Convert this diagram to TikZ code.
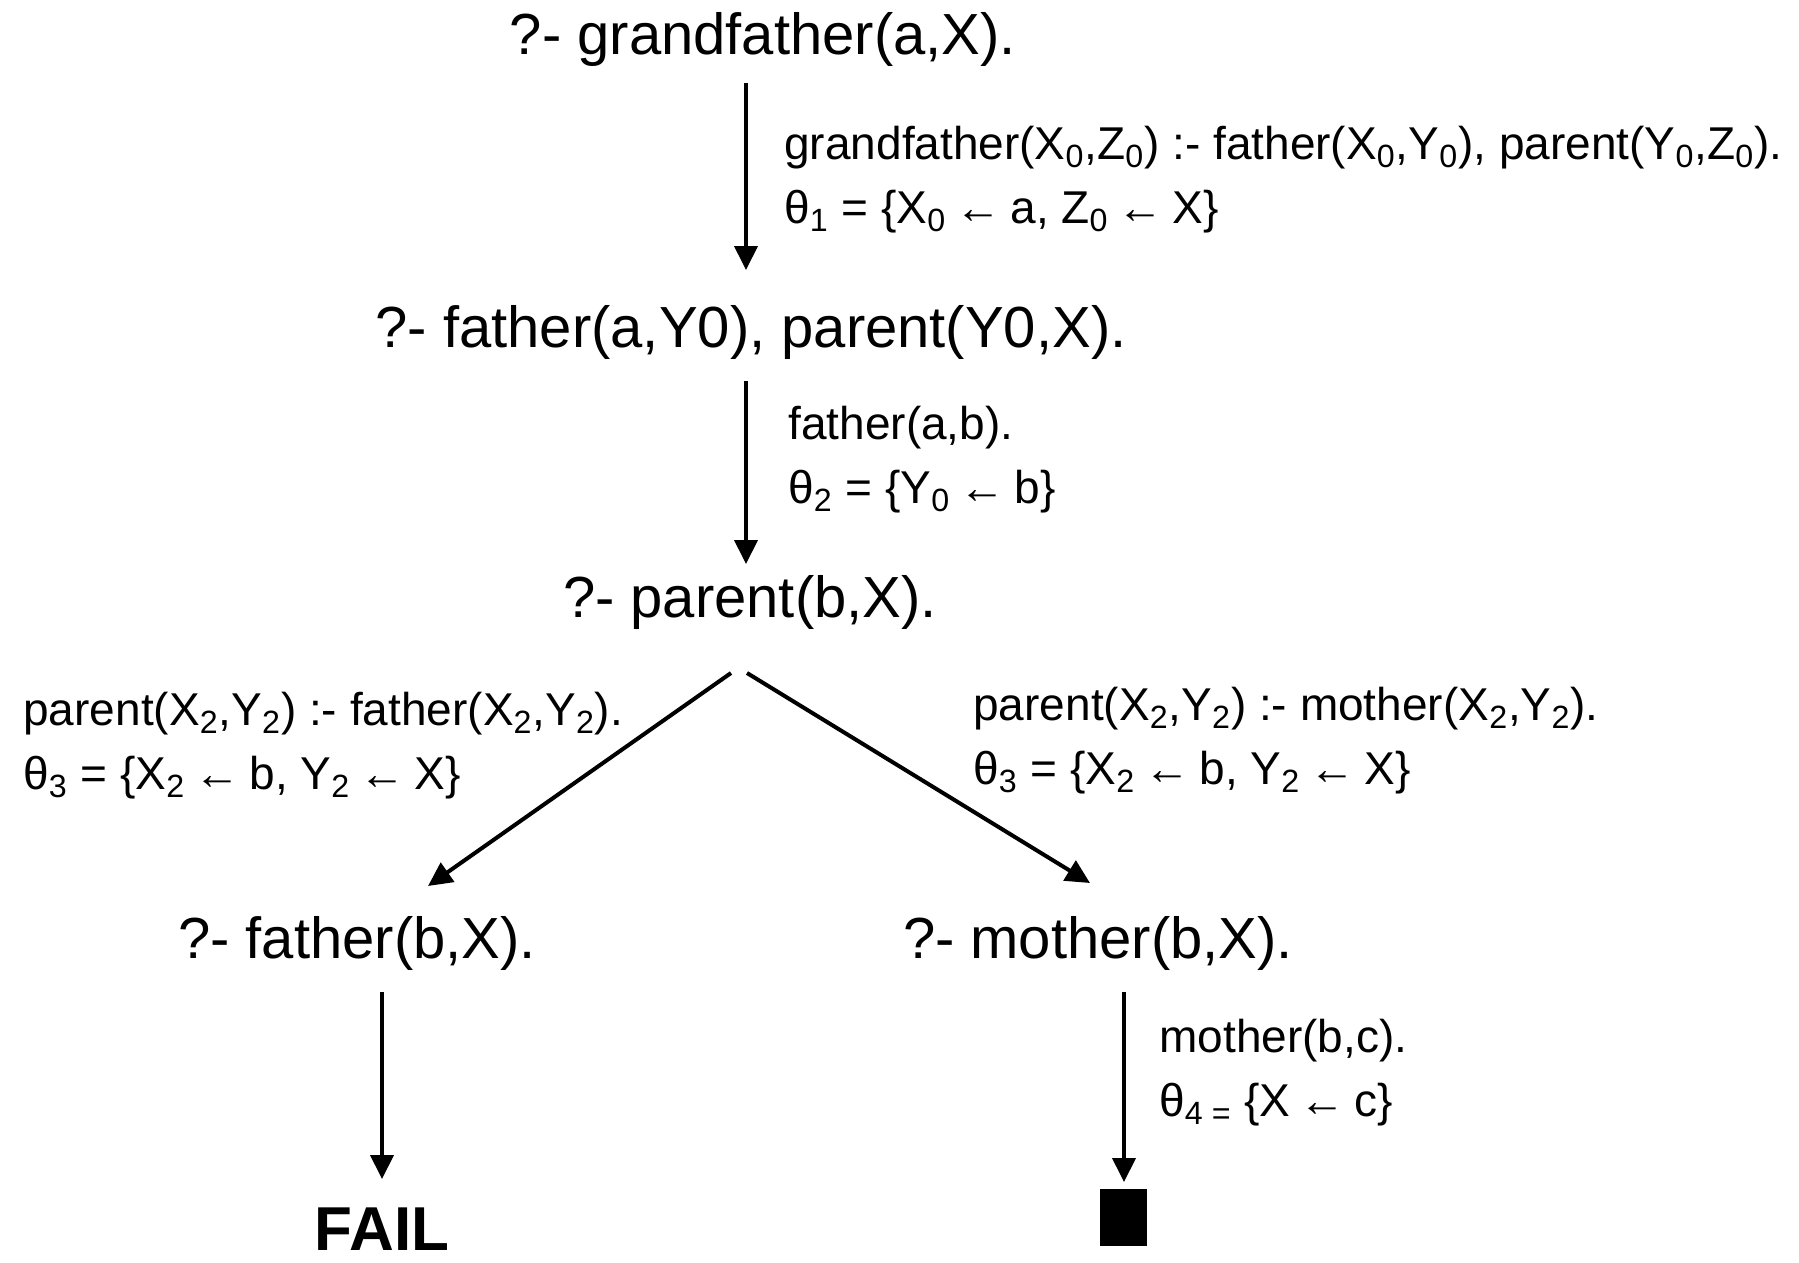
\documentclass[tikz,border=0pt]{standalone}
\usepackage{fontspec}
\setmainfont{Liberation Sans}
\usetikzlibrary{arrows.meta}
\newcommand{\ix}[1]{\textsubscript{#1}}
\newcommand{\bindto}{\kern-0.08em←\kern-0.08em}
\tikzset{
  goal/.style={inner sep=0pt,font=\fontsize{29}{34}\selectfont},
  rule/.style={inner sep=0pt,anchor=west,align=left,font=\fontsize{23}{32}\selectfont},
  arr/.style={line width=2pt,-{Triangle[length=12pt,width=11.5pt]}}
}
\begin{document}
\begin{tikzpicture}[x=0.5pt,y=-0.5pt]
        \useasboundingbox (0,0) rectangle (1799,1263);
        % draw the goals
        \node[goal] (g1) at (763,40) {?- grandfather(a,X).};
        \node[goal] (g2) at (751,333) {?- father(a,Y0), parent(Y0,X).};
        \node[goal] (g3) at (750,602) {?- parent(b,X).};
        \node[goal] (g4) at (357,943) {?- father(b,X).};
        \node[goal] (g5) at (1098,943) {?- mother(b,X).};
        \node[inner sep=0pt,font=\fontsize{31}{36}\selectfont\bfseries] (fail) at (382,1229) {FAIL};
        \node[fill=black,inner sep=0pt,minimum width=23.5pt,minimum height=28.5pt] (done) at (1123,1217) {};
        % draw the resolution steps
        \draw[arr] ([shift={(-17,43)}]g1.center) -- ([shift={(-5,-63)}]g2.center);
        \draw[arr] ([shift={(-5,48)}]g2.center) -- ([shift={(-4,-38)}]g3.center);
        \draw[arr] ([shift={(-19,71)}]g3.center) -- ([shift={(71,-57)}]g4.center);
        \draw[arr] ([shift={(-3,71)}]g3.center) -- ([shift={(-8,-60)}]g5.center);
        \draw[arr] ([shift={(25,49)}]g4.center) -- ([shift={(0,-50)}]fail.center);
        \draw[arr] ([shift={(26,49)}]g5.center) -- ([shift={(1,-35)}]done.center);
        % draw the clauses and substitutions
        \node[rule] (r1) at (784,180) {grandfather(X\ix{0},Z\ix{0}) :- father(X\ix{0},Y\ix{0}), parent(Y\ix{0},Z\ix{0}).\\ θ\ix{1} = \{X\ix{0} \bindto{} a, Z\ix{0} \bindto{} X\}};
        \node[rule] (r2) at (788,460) {father(a,b).\\ θ\ix{2} = \{Y\ix{0} \bindto{} b\}};
        \node[rule] (r3) at (23,746) {parent(X\ix{2},Y\ix{2}) :- father(X\ix{2},Y\ix{2}).\\ θ\ix{3} = \{X\ix{2} \bindto{} b, Y\ix{2} \bindto{} X\}};
        \node[rule] (r4) at (973,741) {parent(X\ix{2},Y\ix{2}) :- mother(X\ix{2},Y\ix{2}).\\ θ\ix{3} = \{X\ix{2} \bindto{} b, Y\ix{2} \bindto{} X\}};
        \node[rule] (r5) at (1159,1073) {mother(b,c).\\ θ\ix{4 =} \{X \bindto{} c\}};
\end{tikzpicture}
\end{document}
